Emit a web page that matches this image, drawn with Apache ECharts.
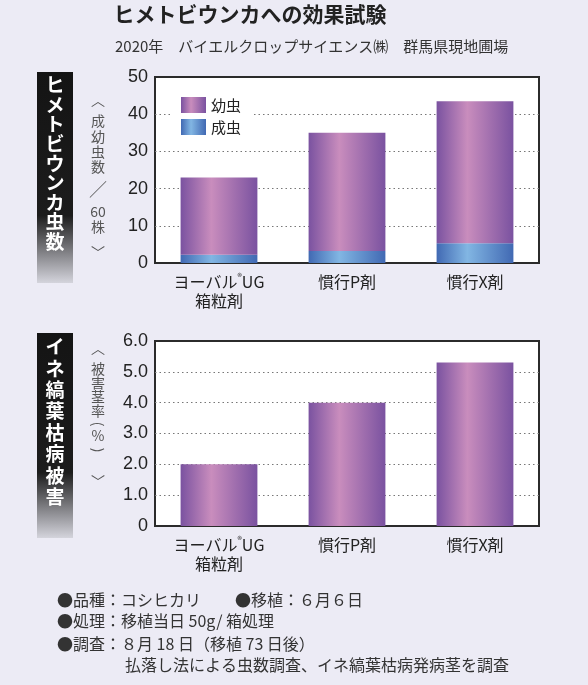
<!DOCTYPE html>
<html><head><meta charset="utf-8">
<script src="https://cdn.jsdelivr.net/npm/echarts@6/dist/echarts.min.js"></script>
<style>html,body{margin:0;padding:0;background:#ECEBF5;}#c{width:588px;height:685px;}</style>
</head><body><div id="c"></div>
<script>
const categories = ['ヨーバル®UG\n箱粒剤', '慣行P剤', '慣行X剤'];
const adultCounts = [2.2, 3.2, 5.3];
const larvaCounts = [20.8, 31.8, 38.2];
const damageRates = [2.0, 4.0, 5.3];
const seriesNames = ['成虫', '幼虫'];
const countAxis = {min: 0, max: 50, interval: 10};
const rateAxis = {min: 0, max: 6, interval: 1};
const titleText = 'ヒメトビウンカへの効果試験';
const subtitleText = '2020年　バイエルクロップサイエンス㈱　群馬県現地圃場';
const panelLabels = ['ヒメトビウンカ虫数', 'イネ縞葉枯病被害'];
const axisNameTop = ['︿', '成', '幼', '虫', '数', '／', '60', '株', '﹀'];
const axisNameBottom = ['︿', '被', '害', '茎', '率', '(', '%', ')', '﹀'];
const notes = [
  '●品種：コシヒカリ',
  '●移植：６月６日',
  '●処理：移植当日 50g/ 箱処理',
  '●調査：８月 18 日（移植 73 日後）',
  '払落し法による虫数調査、イネ縞葉枯病発病茎を調査'
];

const FONT = '"Noto Sans CJK JP", "Noto Sans", sans-serif';
const purple = new echarts.graphic.LinearGradient(0, 0, 1, 0, [
  {offset: 0, color: '#7A52A0'}, {offset: 0.4, color: '#C98DBD'}, {offset: 1, color: '#7A52A0'}
]);
const blue = new echarts.graphic.LinearGradient(0, 0, 1, 0, [
  {offset: 0, color: '#4169B3'}, {offset: 0.4, color: '#82B6E3'}, {offset: 1, color: '#4169B3'}
]);
const boxGrad = new echarts.graphic.LinearGradient(0, 0, 0, 1, [
  {offset: 0, color: '#141414'}, {offset: 0.68, color: '#1c1c1c'}, {offset: 1, color: '#d4d4dc'}
]);

function xLabel() {
  return {
    interval: 0,
    fontSize: 16, color: '#222', margin: 9, lineHeight: 19, fontFamily: FONT,
    formatter: v => v.replace('®', '{sup|®}'),
    rich: {sup: {fontSize: 9, verticalAlign: 'top', lineHeight: 19, color: '#222'}}
  };
}
function yAxisBase(r, fmt) {
  return {
    type: 'value', min: r.min, max: r.max, interval: r.interval,
    axisLine: {show: false}, axisTick: {show: false},
    axisLabel: {fontSize: 18, color: '#222', margin: 7, fontFamily: '"Liberation Sans", sans-serif', formatter: fmt},
    splitLine: {show: true, showMinLine: false, showMaxLine: false, lineStyle: {type: [1.5, 3], color: '#777', width: 1}}
  };
}

const graphics = [];
graphics.push({type: 'text', x: 250, y: 14, style: {text: titleText, font: 'bold 21px ' + FONT, fill: '#222', textAlign: 'center', textVerticalAlign: 'middle'}});
graphics.push({type: 'text', x: 115, y: 46, style: {text: subtitleText, font: '15px ' + FONT, fill: '#333', textAlign: 'left', textVerticalAlign: 'middle'}});
[[72, 283], [333, 538]].forEach(b => {
  graphics.push({type: 'rect', shape: {x: 37, y: b[0], width: 36, height: b[1] - b[0]}, style: {fill: boxGrad}});
});
const topStep = 19.6, botStep = 21.4;
panelLabels[0].split('').forEach((ch, k) => {
  graphics.push({type: 'text', x: 55, y: 85 + k * topStep, style: {text: ch, font: 'bold 19px ' + FONT, fill: '#fff', textAlign: 'center', textVerticalAlign: 'middle'}});
});
panelLabels[1].split('').forEach((ch, k) => {
  graphics.push({type: 'text', x: 55, y: 347 + k * botStep, style: {text: ch, font: 'bold 19px ' + FONT, fill: '#fff', textAlign: 'center', textVerticalAlign: 'middle'}});
});
const topYs = [100, 121, 137, 152, 167, 189, 212, 227, 253];
axisNameTop.forEach((ch, k) => {
  const el = {type: 'text', x: 98, y: topYs[k], style: {text: ch, font: '14px ' + FONT, fill: '#555', textAlign: 'center', textVerticalAlign: 'middle'}};
  if (ch === '／') el.style.font = '18px ' + FONT;
  graphics.push(el);
});
const botYs = [348, 369, 383, 397, 411, 424, 436, 450, 482];
axisNameBottom.forEach((ch, k) => {
  const el = {type: 'text', x: 98, y: botYs[k], style: {text: ch, font: '14px ' + FONT, fill: '#555', textAlign: 'center', textVerticalAlign: 'middle'}};
  if (ch === '(' || ch === ')') el.rotation = -Math.PI / 2;
  graphics.push(el);
});
const notePos = [[57, 600], [235, 600], [57, 621], [57, 644], [125, 665]];
notes.forEach((t, k) => {
  graphics.push({type: 'text', x: notePos[k][0], y: notePos[k][1], style: {text: t, font: '16px ' + FONT, fill: '#333', textAlign: 'left', textVerticalAlign: 'middle'}});
});

const chart = echarts.init(document.getElementById('c'));
chart.setOption({
  backgroundColor: '#ECEBF5',
  animation: false,
  textStyle: {fontFamily: FONT},
  grid: [
    {left: 155, top: 77, width: 384, height: 186, show: true, backgroundColor: '#fff', borderColor: '#2b2b2b', borderWidth: 2},
    {left: 155, top: 341, width: 384, height: 185, show: true, backgroundColor: '#fff', borderColor: '#2b2b2b', borderWidth: 2}
  ],
  legend: {
    data: [seriesNames[1], seriesNames[0]], orient: 'vertical', left: 171, top: 93,
    itemWidth: 25, itemHeight: 16, itemGap: 6, icon: 'rect',
    backgroundColor: '#fff', padding: [4, 10, 4, 10],
    textStyle: {fontSize: 15, color: '#222', fontFamily: FONT}
  },
  xAxis: [
    {type: 'category', gridIndex: 0, data: categories, axisTick: {show: false}, axisLine: {show: false}, axisLabel: xLabel()},
    {type: 'category', gridIndex: 1, data: categories, axisTick: {show: false}, axisLine: {show: false}, axisLabel: xLabel()}
  ],
  yAxis: [
    Object.assign(yAxisBase(countAxis, v => String(v)), {gridIndex: 0}),
    Object.assign(yAxisBase(rateAxis, v => v === 0 ? '0' : v.toFixed(1)), {gridIndex: 1})
  ],
  series: [
    {name: seriesNames[0], type: 'bar', stack: 'n', xAxisIndex: 0, yAxisIndex: 0, barWidth: '60%', data: adultCounts, itemStyle: {color: blue}},
    {name: seriesNames[1], type: 'bar', stack: 'n', xAxisIndex: 0, yAxisIndex: 0, barWidth: '60%', data: larvaCounts, itemStyle: {color: purple}},
    {name: '被害茎率', type: 'bar', xAxisIndex: 1, yAxisIndex: 1, barWidth: '60%', data: damageRates, itemStyle: {color: purple}}
  ],
  graphic: graphics
});
</script></body></html>
